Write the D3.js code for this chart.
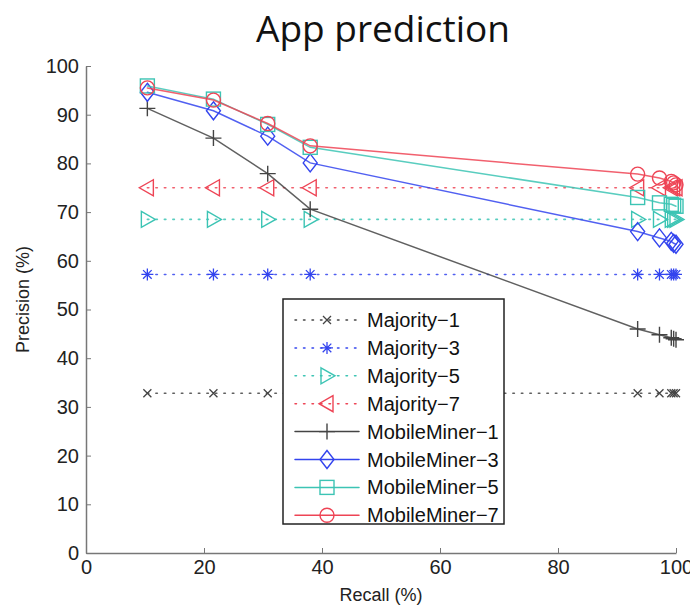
<!DOCTYPE html>
<html lang="en">
<head>
<meta charset="UTF-8">
<title>App prediction</title>
<script src="https://cdn.jsdelivr.net/npm/d3@7"></script>
<style>
    body { margin: 0; background: #fff; }
    svg { display: block; font-family: "Liberation Sans", Arial, sans-serif; }
</style>
</head>
<body>
<svg id="chart" width="690" height="608"></svg>
<script>
// recall values (x) shared by every series
const recall = [10.4, 21.6, 30.8, 38.0, 93.5, 97.2, 99.2, 99.6, 100];

const majority1 = [32.8, 32.8, 32.8, 32.8, 32.8, 32.8, 32.8, 32.8, 32.8];
const majority3 = [57.2, 57.2, 57.2, 57.2, 57.2, 57.2, 57.2, 57.2, 57.2];
const majority5 = [68.5, 68.5, 68.5, 68.5, 68.5, 68.5, 68.5, 68.5, 68.5];
const majority7 = [75.0, 75.0, 75.0, 75.0, 75.0, 75.0, 75.0, 75.0, 75.0];
const miner1 = [91.3, 85.2, 77.9, 70.6, 46.0, 44.8, 44.2, 44.0, 43.8];
const miner3 = [94.6, 90.8, 85.6, 80.1, 66.0, 64.7, 64.0, 63.6, 63.4];
const miner5 = [95.9, 93.2, 88.0, 83.3, 73.0, 71.9, 71.6, 71.4, 71.2];
const miner7 = [95.5, 93.0, 88.2, 83.6, 77.8, 77.0, 76.3, 76.0, 75.6];

const xTicks = [0, 20, 40, 60, 80, 100];
const yTicks = [0, 10, 20, 30, 40, 50, 60, 70, 80, 90, 100];

const series = [
    { name: 'Majority-1', values: majority1, color: '#444', marker: 'x', dotted: true },
    { name: 'Majority-3', values: majority3, color: '#3344ee', marker: 'star', dotted: true },
    { name: 'Majority-5', values: majority5, color: '#3cc4b4', marker: 'right', dotted: true },
    { name: 'Majority-7', values: majority7, color: '#ee4455', marker: 'left', dotted: true },
    { name: 'MobileMiner-1', values: miner1, color: '#444', marker: 'plus', dotted: false },
    { name: 'MobileMiner-3', values: miner3, color: '#3344ee', marker: 'diamond', dotted: false },
    { name: 'MobileMiner-5', values: miner5, color: '#3cc4b4', marker: 'square', dotted: false },
    { name: 'MobileMiner-7', values: miner7, color: '#ee4455', marker: 'circle', dotted: false }
];

const svg = d3.select('#chart');
const margin = { left: 86, top: 66, right: 14, bottom: 55 };
const width = 690 - margin.left - margin.right;
const height = 608 - margin.top - margin.bottom;

const x = d3.scaleLinear().domain([0, 100]).range([0, width]);
const y = d3.scaleLinear().domain([0, 100]).range([height, 0]);

// title
svg.append('text')
    .attr('x', 383).attr('y', 42)
    .attr('text-anchor', 'middle')
    .style('font-family', '"Open Sans", Lato, sans-serif')
    .style('font-size', '37px')
    .attr('fill', '#111')
    .text('App prediction');

const g = svg.append('g').attr('transform', `translate(${margin.left},${margin.top})`);

// axes, ticks point inward
const xAxis = g.append('g').attr('transform', `translate(0,${height})`)
    .call(d3.axisBottom(x).tickValues(xTicks).tickSizeInner(-5).tickSizeOuter(0).tickPadding(6));
const yAxis = g.append('g')
    .call(d3.axisLeft(y).tickValues(yTicks).tickSizeInner(-5).tickSizeOuter(0).tickPadding(7));
[xAxis, yAxis].forEach(a => {
    a.select('.domain').attr('stroke', '#777').attr('stroke-width', 1.5);
    a.selectAll('.tick line').attr('stroke', '#777');
    a.selectAll('.tick text').attr('fill', '#222').style('font-size', '20px')
        .style('font-family', '"Liberation Sans", Arial, sans-serif');
});
xAxis.selectAll('.tick text').attr('dy', '0.75em');

svg.append('text')
    .attr('x', margin.left + width / 2).attr('y', 601)
    .attr('text-anchor', 'middle').style('font-size', '18px').attr('fill', '#222')
    .text('Recall (%)');
svg.append('text')
    .attr('transform', `translate(29,${margin.top + height / 2 - 10}) rotate(-90)`)
    .attr('text-anchor', 'middle').style('font-size', '18px').attr('fill', '#222')
    .text('Precision (%)');

function drawMarker(sel, type, color) {
    const s = 7;
    if (type === 'x') {
        sel.append('path').attr('d', `M-4,-4L4,4M-4,4L4,-4`).attr('stroke', color).attr('stroke-width', 1.3).attr('fill', 'none');
    } else if (type === 'plus') {
        sel.append('path').attr('d', `M-8,0L8,0M0,-8L0,8`).attr('stroke', color).attr('stroke-width', 1.4).attr('fill', 'none');
    } else if (type === 'star') {
        sel.append('path').attr('d', `M-6,0L6,0M0,-6L0,6M-4.3,-4.3L4.3,4.3M-4.3,4.3L4.3,-4.3`)
            .attr('stroke', color).attr('stroke-width', 1.3).attr('fill', 'none');
    } else if (type === 'diamond') {
        sel.append('path').attr('d', `M0,-9L7,0L0,9L-7,0Z`).attr('stroke', color).attr('stroke-width', 1.4).attr('fill', 'none');
    } else if (type === 'square') {
        sel.append('rect').attr('x', -s).attr('y', -s).attr('width', 2 * s).attr('height', 2 * s)
            .attr('stroke', color).attr('stroke-width', 1.4).attr('fill', 'none');
    } else if (type === 'circle') {
        sel.append('circle').attr('r', s).attr('stroke', color).attr('stroke-width', 1.4).attr('fill', 'none');
    } else if (type === 'right') {
        sel.append('path').attr('d', `M-6,-8L8,0L-6,8Z`).attr('stroke', color).attr('stroke-width', 1.4).attr('fill', 'none');
    } else if (type === 'left') {
        sel.append('path').attr('d', `M6,-8L-8,0L6,8Z`).attr('stroke', color).attr('stroke-width', 1.4).attr('fill', 'none');
    }
}

const line = d3.line().x(d => x(d[0])).y(d => y(d[1]));

series.forEach(s => {
    const pts = recall.map((r, i) => [r, s.values[i]]);
    g.append('path')
        .datum(pts)
        .attr('d', line)
        .attr('fill', 'none')
        .attr('stroke', s.color)
        .attr('stroke-opacity', 0.85)
        .attr('stroke-width', s.dotted ? 1.6 : 1.5)
        .attr('stroke-dasharray', s.dotted ? '1.5,7' : null)
        .attr('stroke-linecap', 'round');
    g.selectAll(null)
        .data(pts)
        .enter()
        .append('g')
        .attr('transform', d => `translate(${x(d[0])},${y(d[1])})`)
        .each(function() { drawMarker(d3.select(this), s.marker, s.color); });
});

// legend
const legend = svg.append('g').attr('transform', 'translate(283,299)');
legend.append('rect')
    .attr('width', 221).attr('height', 225)
    .attr('fill', '#fff').attr('stroke', '#222').attr('stroke-width', 1.5);
series.forEach((s, i) => {
    const row = legend.append('g').attr('transform', `translate(0,${21 + i * 27.9})`);
    row.append('line')
        .attr('x1', 12).attr('x2', 76).attr('y1', 0).attr('y2', 0)
        .attr('stroke', s.color).attr('stroke-width', 1.5)
        .attr('stroke-dasharray', s.dotted ? '1.5,7' : null)
        .attr('stroke-linecap', 'round');
    drawMarker(row.append('g').attr('transform', 'translate(44,0)'), s.marker, s.color);
    row.append('text')
        .attr('x', 84).attr('y', 0).attr('dy', '0.35em')
        .style('font-size', '20px').attr('fill', '#111')
        .text(s.name.replace('-', '\u2212'));
});
</script>
</body>
</html>
